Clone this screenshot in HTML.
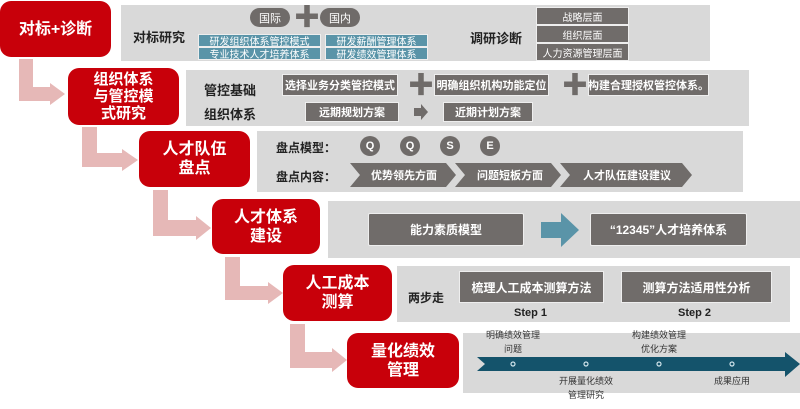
<!DOCTYPE html>
<html><head><meta charset="utf-8"><style>
body{margin:0;width:800px;height:409px;background:#fff;position:relative;overflow:hidden;font-family:"Liberation Sans","Noto Sans CJK SC",sans-serif}
div{position:absolute;box-sizing:border-box}
.red{background:#c8000a;border-radius:11px;color:#fff;font-weight:bold;font-size:16px;line-height:19px;display:flex;align-items:center;justify-content:center;text-align:center}
.pan{background:#d9d9d9}
.lb{font-weight:bold;font-size:12px;color:#222;white-space:nowrap}
.gb{background:#706c6a;color:#fff;font-weight:bold;font-size:11px;display:flex;align-items:center;justify-content:center;border:1px solid #eee;white-space:nowrap}
.bb{background:#5a94a8;color:#fff;font-size:10px;display:flex;align-items:center;justify-content:center;border:1px solid #eee;white-space:nowrap}
.ov{background:#6f6b69;color:#fff;border-radius:50%;font-weight:bold;font-size:11px;display:flex;align-items:center;justify-content:center}
.plus{color:#6f6b69;font-size:26px;font-weight:bold;line-height:20px}
.sm{font-size:9px;color:#333;text-align:center;line-height:14px;white-space:nowrap}
</style></head><body>
<svg width="800" height="409" style="position:absolute;left:0;top:0">
<g fill="#e6b8b7">
<polygon points="19,59 33,59 33,87 50,87 50,83 65,94 50,105 50,101 19,101"/>
<polygon points="82,127 97,127 97,153 122,153 122,149 138,160 122,171 122,167 82,167"/>
<polygon points="153,190 168,190 168,220 196,220 196,216 211,228 196,240 196,236 153,236"/>
<polygon points="225,257 240,257 240,286 268,286 268,282 283,293 268,304 268,300 225,300"/>
<polygon points="290,324 305,324 305,352 332,352 332,348 347,360 332,372 332,368 290,368"/>
</g>
</svg>
<div class="pan" style="left:121px;top:5px;width:589px;height:56px"></div>
<div class="pan" style="left:186px;top:70px;width:563px;height:56px"></div>
<div class="pan" style="left:257px;top:131px;width:486px;height:61px"></div>
<div class="pan" style="left:328px;top:201px;width:472px;height:57px"></div>
<div class="pan" style="left:397px;top:266px;width:393px;height:56px"></div>
<div class="pan" style="left:463px;top:333px;width:337px;height:60px"></div>

<div class="red" style="left:0;top:1px;width:111px;height:56px">对标+诊断</div>
<div class="red" style="left:68px;top:68px;width:111px;height:57px;font-size:15px;line-height:17px">组织体系<br>与管控模<br>式研究</div>
<div class="red" style="left:139px;top:131px;width:111px;height:56px">人才队伍<br>盘点</div>
<div class="red" style="left:212px;top:199px;width:108px;height:55px">人才体系<br>建设</div>
<div class="red" style="left:283px;top:265px;width:109px;height:56px">人工成本<br>测算</div>
<div class="red" style="left:347px;top:333px;width:112px;height:55px">量化绩效<br>管理</div>

<!-- panel1 -->
<div class="lb" style="left:133px;top:27px;font-size:13px">对标研究</div>
<div class="ov" style="left:250px;top:8px;width:40px;height:19px;border-radius:10px;font-weight:normal;font-size:11px">国际</div>
<div class="plus" style="left:294px;top:7px">✚</div>
<div class="ov" style="left:320px;top:8px;width:40px;height:19px;border-radius:10px;font-weight:normal;font-size:11px">国内</div>
<div class="bb" style="left:198px;top:34px;width:123px;height:13px">研发组织体系管控模式</div>
<div class="bb" style="left:198px;top:47px;width:123px;height:13px">专业技术人才培养体系</div>
<div class="bb" style="left:325px;top:34px;width:103px;height:13px">研发薪酬管理体系</div>
<div class="bb" style="left:325px;top:47px;width:103px;height:13px">研发绩效管理体系</div>
<div class="lb" style="left:470px;top:28px;font-size:13px">调研诊断</div>
<div class="gb" style="left:536px;top:7px;width:93px;height:18px;font-weight:normal;font-size:10px">战略层面</div>
<div class="gb" style="left:536px;top:25px;width:93px;height:18px;font-weight:normal;font-size:10px">组织层面</div>
<div class="gb" style="left:536px;top:43px;width:93px;height:18px;font-weight:normal;font-size:10px">人力资源管理层面</div>

<!-- panel2 -->
<div class="lb" style="left:204px;top:80px;font-size:13px">管控基础</div>
<div class="gb" style="left:282px;top:74px;width:116px;height:22px">选择业务分类管控模式</div>
<div class="plus" style="left:408px;top:75px">✚</div>
<div class="gb" style="left:434px;top:74px;width:115px;height:22px">明确组织机构功能定位</div>
<div class="plus" style="left:562px;top:75px">✚</div>
<div class="gb" style="left:588px;top:74px;width:121px;height:22px">构建合理授权管控体系。</div>
<div class="lb" style="left:204px;top:104px;font-size:13px">组织体系</div>
<div class="gb" style="left:305px;top:102px;width:94px;height:20px">远期规划方案</div>
<svg style="position:absolute;left:414px;top:104px" width="14" height="16"><polygon points="0,4 7,4 7,0 14,8 7,16 7,12 0,12" fill="#706c6a"/></svg>
<div class="gb" style="left:443px;top:102px;width:90px;height:20px">近期计划方案</div>

<!-- panel3 -->
<div class="lb" style="left:276px;top:139px">盘点模型：</div>
<div class="ov" style="left:360px;top:136px;width:20px;height:20px">Q</div>
<div class="ov" style="left:400px;top:136px;width:20px;height:20px">Q</div>
<div class="ov" style="left:440px;top:136px;width:20px;height:20px">S</div>
<div class="ov" style="left:480px;top:136px;width:20px;height:20px">E</div>
<div class="lb" style="left:276px;top:168px">盘点内容：</div>
<svg style="position:absolute;left:350px;top:163px" width="345" height="25">
<g fill="#706c6a"><polygon points="0,0 96,0 106,12 96,24 0,24 10,12"/><polygon points="105,0 201,0 211,12 201,24 105,24 115,12"/><polygon points="210,0 332,0 342,12 332,24 210,24 220,12"/></g>
<g fill="#fff" font-family="Liberation Sans,Noto Sans CJK SC,sans-serif" font-size="11" font-weight="bold" text-anchor="middle"><text x="54" y="16">优势领先方面</text><text x="160" y="16">问题短板方面</text><text x="277" y="16">人才队伍建设建议</text></g>
</svg>

<!-- panel4 -->
<div class="gb" style="left:368px;top:213px;width:156px;height:33px;font-size:12px;border-radius:2px">能力素质模型</div>
<svg style="position:absolute;left:541px;top:213px" width="38" height="34"><polygon points="0,9 20,9 20,0 38,17 20,34 20,25 0,25" fill="#5a94a8"/></svg>
<div class="gb" style="left:590px;top:213px;width:157px;height:33px;font-size:12px;border-radius:2px">“12345”人才培养体系</div>

<!-- panel5 -->
<div class="lb" style="left:408px;top:289px">两步走</div>
<div class="gb" style="left:459px;top:271px;width:145px;height:32px;font-size:12px">梳理人工成本测算方法</div>
<div class="gb" style="left:621px;top:271px;width:151px;height:32px;font-size:12px">测算方法适用性分析</div>
<div class="lb" style="left:514px;top:307px;font-size:11px">Step 1</div>
<div class="lb" style="left:678px;top:307px;font-size:11px">Step 2</div>

<!-- panel6 -->
<svg style="position:absolute;left:477px;top:352px" width="323" height="25">
<polygon points="0,5 308,5 308,0 323,12 308,25 308,19 0,19 8,12" fill="#14536b"/>
<g fill="none" stroke="#cfe3ea" stroke-width="1.2"><circle cx="36" cy="12" r="2"/><circle cx="109" cy="12" r="2"/><circle cx="182" cy="12" r="2"/><circle cx="255" cy="12" r="2"/></g>
</svg>
<div class="sm" style="left:483px;top:328px;width:60px">明确绩效管理<br>问题</div>
<div class="sm" style="left:629px;top:328px;width:60px">构建绩效管理<br>优化方案</div>
<div class="sm" style="left:556px;top:374px;width:60px">开展量化绩效<br>管理研究</div>
<div class="sm" style="left:702px;top:374px;width:60px">成果应用</div>
</body></html>
